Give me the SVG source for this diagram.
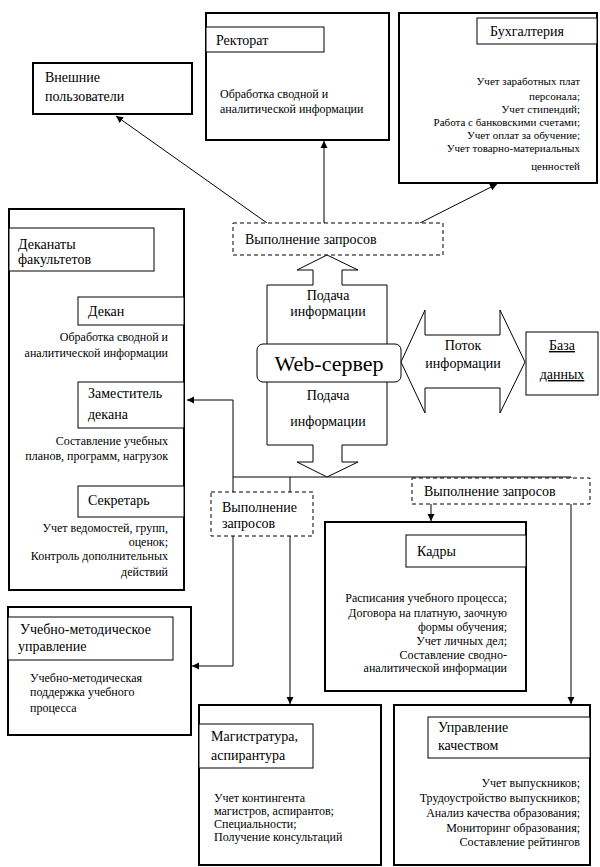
<svg xmlns="http://www.w3.org/2000/svg" width="600" height="867" viewBox="0 0 600 867" font-family="'Liberation Serif', 'Times New Roman', serif">
<style>
text{font-family:"Liberation Serif","Times New Roman",serif;fill:#000}
.t{font-size:14px}
.b{font-size:12px}
.s{font-size:11px}
.r{text-anchor:end}
.m{text-anchor:middle}
.outer{fill:#fff;stroke:#000;stroke-width:2}
.lbl{fill:#fff;stroke:#000;stroke-width:1}
.dash{fill:#fff;stroke:#000;stroke-width:1;stroke-dasharray:4 3}
.ln{fill:none;stroke:#000;stroke-width:1}
.ar{fill:none;stroke:#000;stroke-width:1;marker-end:url(#ah)}
</style>
<defs>
<marker id="ah" markerWidth="8" markerHeight="8" refX="7" refY="4" orient="auto" markerUnits="userSpaceOnUse">
<path d="M0,0.5 L7,4 L0,7.5 Z" fill="#000"/>
</marker>
</defs>
<rect width="600" height="867" fill="#fff"/>

<g id="connectors">
<path class="ar" d="M267,223 L116,116"/>
<path class="ar" d="M324,223 L324,141"/>
<path class="ar" d="M420,223 L497,184"/>
<path class="ln" d="M233,477 L571,477"/>
<path class="ar" d="M233,400 L187,400"/>
<path class="ln" d="M233,400 L233,666"/>
<path class="ar" d="M233,666 L192,666"/>
<path class="ar" d="M290,477 L290,704"/>
<path class="ar" d="M571,477 L571,704"/>
<path class="ar" d="M431,504 L431,521"/>
</g>

<g id="vneshnie">
<rect class="outer" x="33" y="63" width="159" height="51"/>
<text class="t" x="45" y="82">Внешние</text>
<text class="t" x="45" y="101">пользователи</text>
</g>

<g id="rektorat">
<rect class="outer" x="206" y="13" width="183" height="127"/>
<rect class="lbl" x="206" y="27" width="118" height="25"/>
<text class="t" x="216" y="45">Ректорат</text>
<text class="b" x="220" y="98">Обработка сводной и</text>
<text class="b" x="220" y="113">аналитической информации</text>
</g>

<g id="buhgalteria">
<rect class="outer" x="399" y="13" width="198" height="170"/>
<rect class="lbl" x="477" y="18" width="120" height="26"/>
<text class="t" x="490" y="36">Бухгалтерия</text>
<text class="s r" x="580" y="85">Учет заработных плат</text>
<text class="s r" x="580" y="100">персонала;</text>
<text class="s r" x="580" y="113">Учет стипендий;</text>
<text class="s r" x="580" y="126">Работа с банковскими счетами;</text>
<text class="s r" x="580" y="139">Учет оплат за обучение;</text>
<text class="s r" x="580" y="152">Учет товарно-материальных</text>
<text class="s r" x="580" y="170">ценностей</text>
</g>

<g id="zapros-top">
<rect class="dash" x="233" y="223" width="210" height="32"/>
<text class="t" x="245" y="244">Выполнение запросов</text>
</g>

<g id="webserver">
<polygon class="lbl" points="327,255 358,270 342,270 342,285 387,285 387,445 342,445 342,462 358,462 327,477 297,462 313,462 313,445 267,445 267,285 313,285 313,270 297,270"/>
<text class="t m" x="328" y="300">Подача</text>
<text class="t m" x="328" y="316">информации</text>
<text class="t m" x="328" y="400">Подача</text>
<text class="t m" x="328" y="426">информации</text>
<rect class="lbl" x="257" y="344" width="144" height="38" rx="6"/>
<text class="m" x="329" y="371" style="font-size:22px">Web-сервер</text>
</g>

<g id="potok">
<polygon class="lbl" points="401,362 425,310 425,335 500,335 500,310 525,362 500,413 500,388 425,388 425,413"/>
<text class="t m" x="463" y="350">Поток</text>
<text class="t m" x="463" y="368">информации</text>
</g>

<g id="baza">
<rect class="lbl" x="526" y="332" width="72" height="63"/>
<text class="t m" x="562" y="350" text-decoration="underline">База</text>
<text class="t m" x="562" y="379" text-decoration="underline">данных</text>
</g>

<g id="dekanaty">
<rect class="outer" x="9" y="209" width="175" height="381"/>
<rect class="lbl" x="9" y="228" width="145" height="43"/>
<text class="t" x="18" y="249">Деканаты</text>
<text class="t" x="18" y="264">факультетов</text>
<g id="dekan">
<rect class="lbl" x="78" y="297" width="106" height="28"/>
<text class="t" x="88" y="316">Декан</text>
<text class="b r" x="168" y="341">Обработка сводной и</text>
<text class="b r" x="168" y="357">аналитической информации</text>
</g>
<g id="zam">
<rect class="lbl" x="78" y="382" width="106" height="46"/>
<text class="t" x="88" y="398">Заместитель</text>
<text class="t" x="88" y="419">декана</text>
<text class="b r" x="168" y="445">Составление учебных</text>
<text class="b r" x="168" y="460">планов, программ, нагрузок</text>
</g>
<g id="sekretar">
<rect class="lbl" x="78" y="486" width="106" height="31"/>
<text class="t" x="88" y="505">Секретарь</text>
<text class="b r" x="168" y="532">Учет ведомостей, групп,</text>
<text class="b r" x="168" y="546">оценок;</text>
<text class="b r" x="168" y="560">Контроль дополнительных</text>
<text class="b r" x="168" y="576">действий</text>
</g>
</g>

<g id="zapros-left">
<rect class="dash" x="211" y="492" width="102" height="44"/>
<text class="t" x="222" y="512">Выполнение</text>
<text class="t" x="222" y="528">запросов</text>
</g>

<g id="zapros-right">
<rect class="dash" x="412" y="478" width="178" height="26"/>
<text class="t" x="424" y="496">Выполнение запросов</text>
</g>

<g id="kadry">
<rect class="outer" x="325" y="522" width="201" height="169"/>
<rect class="lbl" x="406" y="535" width="120" height="32"/>
<text class="t" x="417" y="556">Кадры</text>
<text class="b r" x="507" y="602">Расписания учебного процесса;</text>
<text class="b r" x="507" y="617">Договора на платную, заочную</text>
<text class="b r" x="507" y="631">формы обучения;</text>
<text class="b r" x="507" y="645">Учет личных дел;</text>
<text class="b r" x="507" y="659">Составление сводно-</text>
<text class="b r" x="507" y="672">аналитической информации</text>
</g>

<g id="umu">
<rect class="outer" x="8" y="607" width="183" height="128"/>
<rect class="lbl" x="8" y="617" width="165" height="43"/>
<text class="t" x="20" y="634">Учебно-методическое</text>
<text class="t" x="18" y="651">управление</text>
<text class="b" x="30" y="682">Учебно-методическая</text>
<text class="b" x="30" y="696">поддержка учебного</text>
<text class="b" x="30" y="712">процесса</text>
</g>

<g id="magistratura">
<rect class="outer" x="199" y="705" width="182" height="160"/>
<rect class="lbl" x="199" y="724" width="114" height="44"/>
<text class="t" x="211" y="741">Магистратура,</text>
<text class="t" x="211" y="760">аспирантура</text>
<text class="b" x="214" y="802">Учет контингента</text>
<text class="b" x="214" y="815">магистров, аспирантов;</text>
<text class="b" x="214" y="828">Специальности;</text>
<text class="b" x="214" y="841">Получение консультаций</text>
</g>

<g id="kachestvo">
<rect class="outer" x="394" y="705" width="196" height="160"/>
<rect class="lbl" x="428" y="717" width="162" height="41"/>
<text class="t" x="438" y="732">Управление</text>
<text class="t" x="438" y="750">качеством</text>
<text class="b r" x="580" y="787">Учет выпускников;</text>
<text class="b r" x="580" y="802">Трудоустройство выпускников;</text>
<text class="b r" x="580" y="817">Анализ качества образования;</text>
<text class="b r" x="580" y="832">Мониторинг образования;</text>
<text class="b r" x="580" y="846">Составление рейтингов</text>
</g>
</svg>
